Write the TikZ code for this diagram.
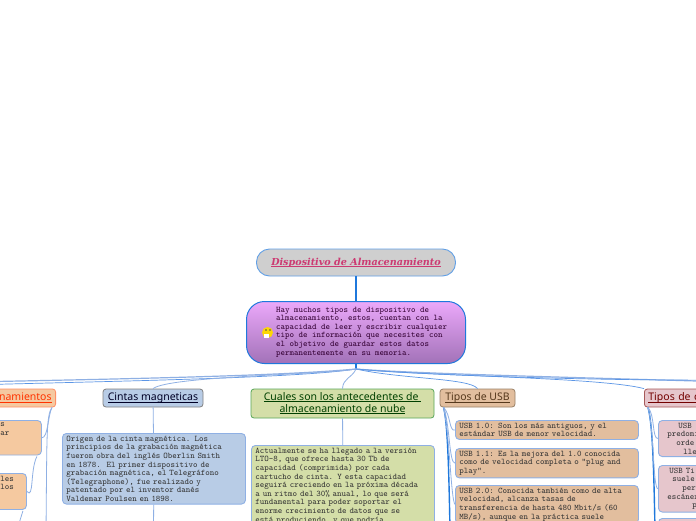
\documentclass[tikz,border=0pt]{standalone}
\usepackage{fontspec}
\newfontfamily\headfont{Noto Sans}
\newfontfamily\titlefont{DejaVu Serif}
\usetikzlibrary{positioning}
\definecolor{mmline}{HTML}{5C96E6}
\definecolor{mmthick}{HTML}{1F78DC}
\definecolor{mmedge}{HTML}{8FB0E4}
\definecolor{mmtitle}{HTML}{CFCFCF}
\definecolor{mmalm}{HTML}{F5C9A0}
\definecolor{mmcin}{HTML}{B8CCE6}
\definecolor{mmant}{HTML}{D4DEA8}
\definecolor{mmusb}{HTML}{E2BE9E}
\definecolor{mmcon}{HTML}{E6C6CC}
\definecolor{mmtop}{HTML}{EBA8FA}
\definecolor{mmbot}{HTML}{A272B8}
\definecolor{mmpink}{HTML}{CC3A72}
\newcommand{\ulin}[1]{\mbox{\rule[-2.5pt]{0pt}{10pt}\underline{\smash{\mbox{#1}}}}}
\begin{document}
\begin{tikzpicture}[x=1pt,y=-1pt,
        lnk/.style={mmline,line width=0.7pt},
        lnklight/.style={mmedge,line width=0.8pt},
        lnkthick/.style={mmthick,line width=1.6pt},
        head/.style={draw,line width=0.8pt,rounded corners=3pt,inner xsep=4pt,inner ysep=2pt,align=center,
          font=\headfont\fontsize{10.5}{12}\selectfont},
        txtfont/.style={font=\ttfamily\fontsize{8.57}{8.6}\selectfont},
        txtbox/.style={draw=mmedge,line width=0.9pt,rounded corners=4pt,anchor=north west,inner xsep=4pt,inner ysep=2.5pt,align=left,txtfont},
        almbox/.style={txtbox,fill=mmalm,text=black!80,inner xsep=10pt},
        cinbox/.style={txtbox,fill=mmcin,text=black!80},
        antbox/.style={txtbox,fill=mmant,text=black!80},
        usbbox/.style={txtbox,fill=mmusb,text=black!80},
        conbox/.style={txtbox,fill=mmcon,text=black!80,inner xsep=9pt}]
        \path[use as bounding box,clip] (0,0) rectangle (696,520);
        \fill[white] (0,0) rectangle (696,520);
        \node[draw=mmthick!70,line width=0.9pt,fill=mmtitle,rounded corners=13pt,minimum width=199pt,minimum height=27pt,
          text=mmpink,font=\titlefont\bfseries\itshape\fontsize{9.6}{12}\selectfont] (title) at (356,262.5) {\ulin{Dispositivo de Almacenamiento}};
        \node[draw=mmthick,line width=1pt,top color=mmtop,bottom color=mmbot,rounded corners=18pt,
          minimum width=219pt,minimum height=62pt] (central) at (356,332.5) {};
        \node[anchor=west,inner sep=0pt,align=left,text=violet!40!black,txtfont] (centraltxt) at (276,332) {Hay muchos tipos de dispositivo de\\almacenamiento, estos, cuentan con la\\capacidad de leer y escribir cualquier\\tipo de información que necesites con\\el objetivo de guardar estos datos\\permanentemente en su memoria.};
        \node[circle,fill=yellow!75!orange,minimum size=11pt,inner sep=0pt] (emoji) at (267.5,332.5) {};
        \fill[white] (emoji.south west) ++(1,-3) rectangle ++(5,4);
        \fill[black!70] (266,330) circle (0.8) (270,330) circle (0.8);
        \draw[lnkthick] (title) -- (central);
        \coordinate (hub) at (356,369);
        \coordinate (offleftA) at (-30,385);
        \coordinate (offleftB) at (-30,382);
        \coordinate (offrightA) at (730,382);
        \coordinate (offrightB) at (730,380);
        \draw[lnkthick] (central.south) -- (hub);
        % heads of the branches
        \node[head,anchor=east,fill=mmalm,draw=orange!55!red!60,text=orange!40!red,minimum width=90pt,minimum height=18pt,text width=82pt,align=right] (almac) at (56,398) {\ulin{namientos}};
        \node[head,fill=mmcin,draw=gray,text=black!85!blue,minimum width=100pt,minimum height=18pt] (cintas) at (153,398) {\ulin{Cintas magneticas}};
        \node[head,fill=mmant,draw=gray!70!green,text=green!25!black,minimum width=183pt,minimum height=29pt] (antec) at (342.5,403.5) {\ulin{Cuales son los antecedentes de\ }\\\ulin{almacenamiento de nube}};
        \node[head,fill=mmusb,draw=gray!60!brown,text=black!55!brown,minimum width=75pt,minimum height=18pt] (tusb) at (477.5,398) {\ulin{Tipos de USB}};
        \node[head,anchor=west,fill=mmcon,draw=gray!70!red,text=red!45!black,minimum width=110pt,minimum height=18pt,text width=102pt,align=left] (tcon) at (644,398) {\ulin{Tipos de c}};
        % lines out of the central node
        \draw[lnk] (hub) .. controls (300,378) and (120,381) .. (offleftA);
        \draw[lnklight,line width=1.2pt] (hub) .. controls (280,376) and (120,379) .. (offleftB);
        \draw[lnklight] (hub) .. controls (320,375) and (170,376) .. (cintas.north);
        \draw[lnklight] (hub) .. controls (352,378) and (343,378) .. (antec.north);
        \draw[lnk] (hub) .. controls (400,379) and (470,378) .. (tusb.north);
        \draw[lnk] (hub) .. controls (420,376) and (600,377) .. (tcon.north west);
        \draw[lnklight,line width=1.2pt] (hub) .. controls (420,374) and (600,378) .. (offrightA);
        \draw[lnk] (hub) .. controls (420,375) and (600,381) .. (offrightB);
        % text boxes
        \node[cinbox,text width=175pt] (cintasbody) at (62,433) {Origen de la cinta magnética. Los\\principios de la grabación magnética\\fueron obra del inglés Oberlin Smith\\en 1878.\ \ El primer dispositivo de\\grabación magnética, el Telegráfono\\(Telegraphone), fue realizado y\\patentado por el inventor danés\\Valdemar Poulsen en 1898.};
        \node[antbox,text width=175pt] (antecbody) at (251,445) {Actualmente se ha llegado a la versión\\LTO-8, que ofrece hasta 30 Tb de\\capacidad (comprimida) por cada\\cartucho de cinta. Y esta capacidad\\seguirá creciendo en la próxima década\\a un ritmo del 30\% anual, lo que será\\fundamental para poder soportar el\\enorme crecimiento de datos que se\\está produciendo, y que podría};
        \node[usbbox,text width=175pt] (usba) at (455,420) {USB 1.0: Son los más antiguos, y el\\estándar USB de menor velocidad.};
        \node[usbbox,text width=175pt] (usbb) at (455,448) {USB 1.1: Es la mejora del 1.0 conocida\\como de velocidad completa o "plug and\\play".};
        \node[usbbox,text width=175pt] (usbc) at (455,485) {USB 2.0: Conocida también como de alta\\velocidad, alcanza tasas de\\transferencia de hasta 480 Mbit/s (60\\MB/s), aunque en la práctica suele};
        \node[almbox,text width=31pt] (alma) at (-10,420) {s\\ar\\\mbox{}\\\mbox{}};
        \node[almbox,text width=16pt] (almb) at (-10,473) {les\\los\\\mbox{}\\\mbox{}};
        \node[conbox,text width=160pt] (cona) at (658,420) {\hspace*{11pt}USB\\predomi\\\hspace*{9pt}orde\\\hspace*{16pt}lle};
        \node[conbox,text width=160pt] (conb) at (658,465) {\hspace*{2pt}USB Ti\\\hspace*{5pt}suele\\\hspace*{15pt}per\\escáner\\\hspace*{25pt}p};
        \node[conbox,text width=160pt,minimum height=40pt] (conc) at (658,518) {};
        % second level lines
        \coordinate (cintasdown) at (153.5,530);
        \coordinate (usbdown) at (450,530);
        \coordinate (condown) at (655,530);
        \coordinate (almdown) at (46,530);
        \coordinate (almbdown) at (17,530);
        \draw[lnklight] (cintas) -- (cintasbody);
        \draw[lnklight] (cintasbody) -- (cintasdown);
        \draw[lnklight] (antec) -- (antecbody);
        \draw[lnkthick,line width=1.4pt] (tusb.south west) ++(4,0) coordinate (usbfoot) .. controls (448,425) and (449,480) .. (usbdown);
        \draw[lnklight] (usbfoot) .. controls (451,415) and (449,432) .. (usba.west);
        \draw[lnklight] (usbfoot) .. controls (450,425) and (449,463) .. (usbb.west);
        \draw[lnklight] (usbfoot) .. controls (450,440) and (451,500) .. (usbc.west);
        \draw[lnkthick,line width=1.4pt] (tcon.south west) ++(4,0) coordinate (confoot) .. controls (653,425) and (654,480) .. (condown);
        \draw[lnklight] (confoot) .. controls (655,415) and (652,439) .. (cona.west);
        \draw[lnklight] (confoot) .. controls (654,430) and (653,489) .. (conb.west);
        \draw[lnklight] (almac.south east) ++(-4,0) coordinate (almfoot) .. controls (46,415) and (47,440) .. (almdown);
        \draw[lnklight] (almfoot) .. controls (48,415) and (48,438) .. (alma.east);
        \draw[lnklight] (alma.south east) ++(-5,1) coordinate (almafoot) .. controls (30,470) and (34,500) .. (almb.east);
        \draw[lnklight] (almb.south east) ++(-4,1) coordinate (almbfoot) -- (almbdown);
\end{tikzpicture}
\end{document}
